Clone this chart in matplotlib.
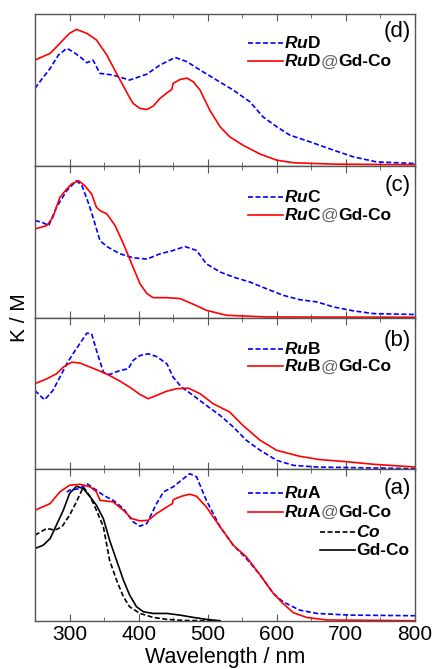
import matplotlib.pyplot as plt
from matplotlib.ticker import MultipleLocator

plt.rcParams['font.family'] = ['Liberation Sans', 'DejaVu Sans']
plt.rcParams['mathtext.fontset'] = 'custom'
plt.rcParams['mathtext.rm'] = 'Liberation Sans'
plt.rcParams['mathtext.bf'] = 'Liberation Sans:bold'
plt.rcParams['mathtext.it'] = 'Liberation Sans:italic'
plt.rcParams['mathtext.bfit'] = 'Liberation Sans:italic:bold'

# ---- panel (d) ----
d_red_x = [250, 272, 286, 300, 310, 325, 339, 354, 368, 385, 392, 402, 412, 421, 431, 441, 448, 450,
           460, 470, 479, 489, 503, 518, 532, 551, 576, 600, 624, 682, 800]
d_red_y = [0.697, 0.741, 0.807, 0.873, 0.899, 0.873, 0.829, 0.730, 0.609, 0.466, 0.411, 0.378, 0.371,
           0.393, 0.444, 0.481, 0.503, 0.543, 0.569, 0.578, 0.554, 0.499, 0.367, 0.257, 0.191, 0.136,
           0.077, 0.037, 0.020, 0.011, 0.007]
d_blue_x = [250, 257, 272, 284, 296, 305, 318, 325, 334, 344, 363, 387, 412, 431, 453, 470, 489, 513,
            537, 561, 580, 600, 619, 648, 682, 711, 744, 800]
d_blue_y = [0.510, 0.554, 0.642, 0.730, 0.774, 0.752, 0.708, 0.679, 0.697, 0.609, 0.598, 0.565, 0.604,
            0.664, 0.714, 0.686, 0.631, 0.565, 0.499, 0.422, 0.323, 0.257, 0.202, 0.158, 0.103, 0.059,
            0.026, 0.015]

# ---- panel (c) ----
c_red_x = [250, 267, 276, 286, 296, 303, 313, 322, 332, 339, 344, 354, 366, 378, 390, 402, 412, 421,
           441, 460, 479, 498, 527, 585, 800]
c_red_y = [0.584, 0.606, 0.661, 0.792, 0.847, 0.880, 0.902, 0.869, 0.814, 0.726, 0.705, 0.683, 0.606,
           0.486, 0.354, 0.223, 0.158, 0.131, 0.131, 0.125, 0.088, 0.048, 0.015, 0.004, 0.002]
c_blue_x = [250, 260, 270, 281, 296, 310, 318, 327, 334, 344, 354, 373, 392, 412, 431, 450, 467, 484,
            498, 518, 537, 561, 585, 609, 633, 658, 682, 711, 740, 800]
c_blue_y = [0.639, 0.628, 0.606, 0.726, 0.836, 0.902, 0.869, 0.759, 0.661, 0.508, 0.468, 0.420, 0.394,
            0.385, 0.420, 0.442, 0.468, 0.442, 0.354, 0.300, 0.267, 0.234, 0.190, 0.147, 0.118, 0.103,
            0.070, 0.044, 0.026, 0.020]

# ---- panel (b) ----
b_blue_x = [250, 257, 264, 276, 286, 296, 305, 318, 325, 332, 339, 349, 358, 373, 385, 392, 402, 414,
            426, 441, 450, 462, 479, 498, 518, 537, 556, 576, 600, 624, 658, 800]
b_blue_y = [0.520, 0.487, 0.458, 0.520, 0.607, 0.695, 0.761, 0.849, 0.897, 0.893, 0.783, 0.640, 0.625,
            0.651, 0.662, 0.717, 0.750, 0.761, 0.743, 0.695, 0.607, 0.542, 0.487, 0.421, 0.355, 0.279,
            0.191, 0.125, 0.059, 0.026, 0.015, 0.004]
b_red_x = [250, 267, 281, 291, 303, 315, 330, 344, 358, 373, 387, 402, 414, 426, 441, 455, 472, 489,
           508, 532, 551, 576, 600, 633, 662, 701, 740, 800]
b_red_y = [0.564, 0.596, 0.629, 0.673, 0.706, 0.700, 0.673, 0.647, 0.618, 0.581, 0.542, 0.493, 0.465,
           0.487, 0.515, 0.531, 0.535, 0.498, 0.432, 0.377, 0.289, 0.191, 0.125, 0.086, 0.064, 0.050,
           0.033, 0.015]

# ---- panel (a) ----
a_red_x = [250, 272, 286, 300, 315, 330, 339, 344, 363, 378, 390, 402, 414, 426, 441, 449, 450, 462,
           474, 484, 498, 518, 537, 556, 576, 595, 609, 624, 643, 672, 800]
a_red_y = [0.730, 0.774, 0.851, 0.895, 0.901, 0.884, 0.851, 0.796, 0.785, 0.730, 0.675, 0.660, 0.664,
           0.708, 0.752, 0.774, 0.800, 0.822, 0.836, 0.822, 0.752, 0.621, 0.500, 0.423, 0.303, 0.182,
           0.116, 0.055, 0.024, 0.007, 0.002]
a_blue_x = [296, 300, 315, 325, 339, 349, 363, 378, 392, 402, 412, 426, 436, 450, 462, 474, 484, 498,
            518, 537, 556, 576, 595, 609, 633, 658, 706, 800]
a_blue_y = [0.850, 0.862, 0.873, 0.906, 0.862, 0.829, 0.796, 0.741, 0.654, 0.625, 0.643, 0.774, 0.851,
            0.884, 0.928, 0.971, 0.950, 0.796, 0.621, 0.500, 0.412, 0.303, 0.182, 0.127, 0.072, 0.050,
            0.039, 0.035]
a_gdco_x = [250, 262, 272, 281, 291, 300, 310, 320, 330, 339, 349, 358, 368, 378, 387, 397, 407, 421,
            441, 460, 479, 498, 518]
a_gdco_y = [0.478, 0.500, 0.544, 0.632, 0.730, 0.840, 0.888, 0.873, 0.818, 0.763, 0.675, 0.533, 0.401,
            0.270, 0.171, 0.094, 0.061, 0.050, 0.050, 0.039, 0.024, 0.011, 0.002]
a_co_x = [250, 267, 279, 289, 300, 310, 320, 330, 339, 349, 358, 368, 378, 387, 402, 421, 441, 465, 510]
a_co_y = [0.566, 0.610, 0.599, 0.621, 0.697, 0.785, 0.884, 0.818, 0.730, 0.621, 0.401, 0.270, 0.160,
          0.094, 0.050, 0.024, 0.011, 0.004, 0.001]

panel_names = ['(d)', '(c)', '(b)', '(a)']
compounds = ['D', 'C', 'B', 'A']

fig = plt.figure(figsize=(4.34, 6.69), dpi=100)
left, right, bottom, top = 0.0806, 0.956, 0.0717, 0.979
h = (top - bottom) / 4
axes = [fig.add_axes([left, top - (i + 1) * h, right - left, h]) for i in range(4)]

series = [
    [(d_blue_x, d_blue_y, 'blue', '--'), (d_red_x, d_red_y, 'red', '-')],
    [(c_blue_x, c_blue_y, 'blue', '--'), (c_red_x, c_red_y, 'red', '-')],
    [(b_blue_x, b_blue_y, 'blue', '--'), (b_red_x, b_red_y, 'red', '-')],
    [(a_co_x, a_co_y, 'black', '--'), (a_gdco_x, a_gdco_y, 'black', '-'),
     (a_blue_x, a_blue_y, 'blue', '--'), (a_red_x, a_red_y, 'red', '-')],
]

legend_rows = [(0.812, 0.688), (0.795, 0.674), (0.794, 0.678), (0.842, 0.717)]
label_y = [0.883, 0.872, 0.849, 0.875]
FS = 12.5


def rich(ax, x, y, pieces):
    s, kw = pieces[0]
    t = ax.text(x, y, s, transform=ax.transAxes, va='center', ha='left', fontsize=FS, **kw)
    for s, kw in pieces[1:]:
        t = ax.annotate(s, xy=(1, 0), xycoords=t, va='bottom', ha='left', fontsize=FS, **kw)


def legend_line(ax, x0, x1, y, color, ls):
    ax.plot([x0, x1], [y, y], transform=ax.transAxes, color=color, lw=1.2,
            dashes=(3, 1.5) if ls == '--' else (None, None), clip_on=False)


for i, ax in enumerate(axes):
    for x, y, col, ls in series[i]:
        if ls == '--':
            ax.plot(x, y, color=col, lw=1.2, dashes=(3, 1.5))
        else:
            ax.plot(x, y, color=col, lw=1.2)
    ax.set_xlim(250, 800)
    ax.set_ylim(0, 1)
    ax.set_yticks([])
    ax.xaxis.set_major_locator(MultipleLocator(100))
    ax.xaxis.set_minor_locator(MultipleLocator(50))
    ax.tick_params(axis='x', which='both', direction='in', top=True, bottom=True,
                   color='#555555', labelsize=15, pad=3)
    ax.tick_params(axis='x', which='major', length=5)
    ax.tick_params(axis='x', which='minor', length=3)
    for sp in ax.spines.values():
        sp.set_color('#555555')
        sp.set_linewidth(1.0)
    if i < 3:
        ax.tick_params(axis='x', labelbottom=False)

    ax.text(0.99, label_y[i], panel_names[i], transform=ax.transAxes, ha='right', va='center',
            fontsize=16)
    r1, r2 = legend_rows[i]
    c = compounds[i]
    legend_line(ax, 0.561, 0.653, r1, 'blue', '--')
    rich(ax, 0.655, r1, [(r'$\mathbfit{Ru}\mathbf{%s}$' % c, {})])
    legend_line(ax, 0.561, 0.653, r2, 'red', '-')
    rich(ax, 0.655, r2, [(r'$\mathbfit{Ru}\mathbf{%s}$' % c, {}),
                         ('@', dict(color='#666666')), ('Gd-Co', dict(weight='bold'))])
    if i == 3:
        legend_line(ax, 0.75, 0.842, 0.586, 'black', '--')
        rich(ax, 0.845, 0.586, [(r'$\mathbfit{Co}$', {})])
        legend_line(ax, 0.75, 0.842, 0.467, 'black', '-')
        rich(ax, 0.845, 0.467, [('Gd-Co', dict(weight='bold'))])

axes[3].set_xlabel('Wavelength / nm', fontsize=15.5, labelpad=2)
fig.text(0.045, (top + bottom) / 2, 'K / M', rotation=90, ha='center', va='center', fontsize=15)

fig.savefig('out.png', dpi=100)
